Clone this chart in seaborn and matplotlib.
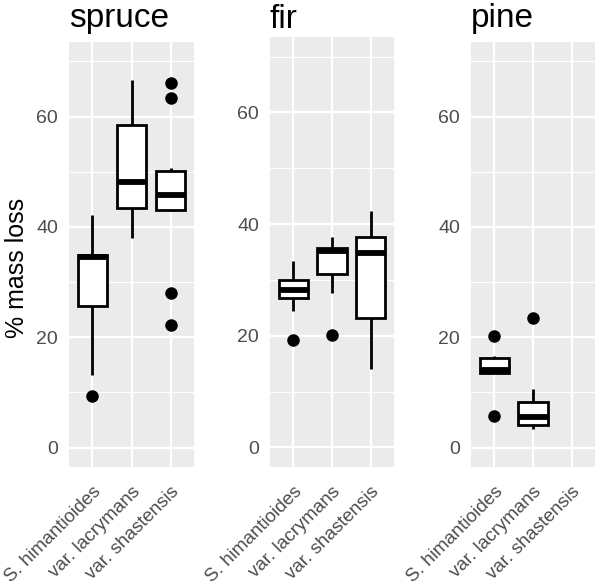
import matplotlib
matplotlib.use("Agg")
import matplotlib.pyplot as plt
import seaborn as sns
import pandas as pd

# groups shown on every panel
strains = ["S. himantioides", "var. lacrymans", "var. shastensis"]
woods = ["spruce", "fir", "pine"]

spruce_him = [9.3, 13.1, 25.7, 30.2, 34.5, 34.7, 34.95, 38.6, 42.2]
spruce_lac = [37.9, 43.4, 48.2, 58.5, 66.7]
spruce_sha = [22.3, 28.1, 42.8, 43.1, 44.0, 45.0, 45.8, 47.0, 48.9, 50.2, 50.6, 63.3, 66.1]

fir_him = [19.3, 24.4, 26.7, 27.5, 28.2, 29.0, 30.0, 31.5, 33.3]
fir_lac = [20.1, 27.6, 31.1, 33.5, 35.2, 35.4, 35.7, 36.5, 37.6]
fir_sha = [14.0, 23.1, 34.9, 37.7, 42.3]

pine_him = [5.8, 13.6, 13.6, 13.8, 14.0, 15.0, 16.2, 16.6, 20.3]
pine_lac = [3.4, 3.8, 4.1, 4.8, 5.5, 7.0, 8.3, 10.6, 23.5]
pine_sha = []

data = {
    "spruce": [spruce_him, spruce_lac, spruce_sha],
    "fir": [fir_him, fir_lac, fir_sha],
    "pine": [pine_him, pine_lac, pine_sha],
}

rows = []
for wood in woods:
    for strain, vals in zip(strains, data[wood]):
        for v in vals:
            rows.append({"wood": wood, "strain": strain, "loss": v})
df = pd.DataFrame(rows)

sns.set_style("white")
plt.rcParams["font.family"] = ["Liberation Sans", "DejaVu Sans"]

W, H = 595, 586
fig = plt.figure(figsize=(W / 100, H / 100), dpi=100)

# panel boxes in pixels: left, right, top, bottom
panels = {
    "spruce": (69, 194, 42, 467),
    "fir": (270, 394, 37, 467),
    "pine": (471, 595, 42, 467),
}
title_base = {"spruce": 27, "fir": 28, "pine": 27}

for wood in woods:
    l, r, t, b = panels[wood]
    ax = fig.add_axes([l / W, 1 - b / H, (r - l) / W, (b - t) / H])
    ax.set_facecolor("#EBEBEB")
    sub = df[df["wood"] == wood]
    sns.boxplot(data=sub, x="strain", y="loss", order=strains, ax=ax,
                color="white", linecolor="black", linewidth=2.0, width=0.75,
                showcaps=False, saturation=1,
                medianprops=dict(linewidth=4.2, color="black"),
                flierprops=dict(marker="o", markersize=8,
                                markerfacecolor="black", markeredgecolor="black"))
    ax.set_xlim(-0.6, 2.6)
    ax.set_ylim(-3.5, 73.5)
    ax.set_yticks([0, 20, 40, 60])
    ax.set_yticks([10, 30, 50, 70], minor=True)
    ax.set_axisbelow(True)
    ax.grid(True, which="major", color="white", linewidth=1.6)
    ax.grid(True, which="minor", axis="y", color="white", linewidth=0.8)
    for s in ax.spines.values():
        s.set_visible(False)
    ax.tick_params(which="major", length=5, width=1.3, color="#333333",
                   labelcolor="#4D4D4D", labelsize=14, pad=3)
    ax.tick_params(axis="x", pad=7, labelsize=13.5)
    ax.tick_params(which="minor", length=0)
    ax.set_xticks(range(3))
    ax.set_xticklabels(strains, rotation=45, ha="right", va="top",
                       rotation_mode="anchor")
    ax.set_xlabel("")
    ax.set_ylabel("")
    fig.text(l / W, 1 - title_base[wood] / H, wood, fontsize=24,
             ha="left", va="baseline", color="black")

fig.text(17 / W, 1 - 268 / H, "% mass loss", rotation=90, fontsize=18,
         ha="center", va="center", color="black")

fig.savefig("out.png", dpi=100)
